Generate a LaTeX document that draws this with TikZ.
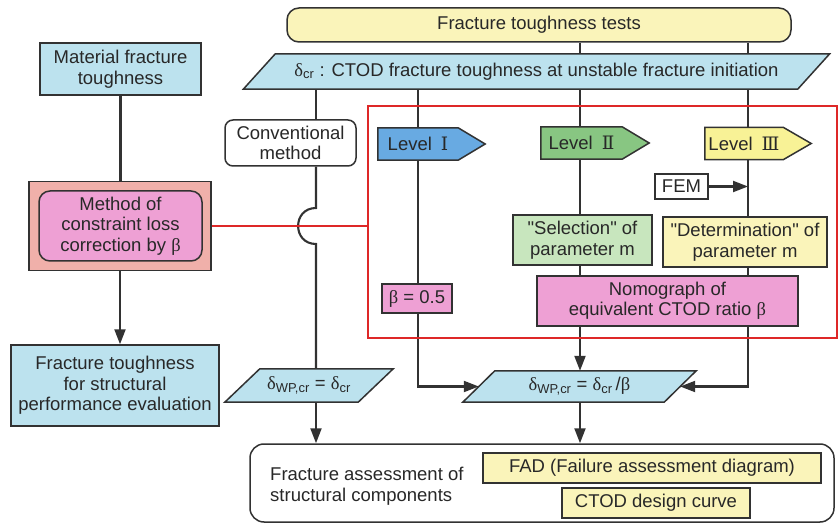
\documentclass[tikz,border=0pt]{standalone}
\usepackage{fontspec}
\setmainfont{Liberation Sans}
\newfontfamily\qfont{Liberation Sans}
\newfontfamily\grkfont{Liberation Serif}
\newfontfamily\romfont{DejaVu Serif}
\usetikzlibrary{arrows.meta,calc}
\pgfdeclarelayer{back}
\pgfdeclarelayer{bg}
\pgfdeclarelayer{shapes}
\pgfsetlayers{back,bg,shapes,main}
\definecolor{txt}{RGB}{40,40,40}
\definecolor{edge}{RGB}{50,50,50}
\definecolor{lblue}{RGB}{188,226,238}
\definecolor{lyellow}{RGB}{250,244,186}
\definecolor{bluelvl}{RGB}{104,170,226}
\definecolor{greenlvl}{RGB}{136,198,130}
\definecolor{yellowlvl}{RGB}{248,242,150}
\definecolor{lgreen}{RGB}{200,230,190}
\definecolor{magpink}{RGB}{238,160,212}
\definecolor{salmon}{RGB}{240,176,170}
\definecolor{redline}{RGB}{222,40,40}
\newcommand\dl{{\grkfont δ}}
\newcommand\bt{{\grkfont β}}
\newcommand\qq{{\qfont"}}
\newcommand\lvl[3]{\begin{pgfonlayer}{shapes}\draw[shp,fill=#3] (#1.north west) -- (#1.north east) -- ([xshift=#2pt]#1.east) -- (#1.south east) -- (#1.south west) -- cycle;\end{pgfonlayer}}
\newcommand\para[3]{\begin{pgfonlayer}{shapes}\draw[shp,fill=#3] ([xshift=-#2pt]#1.south west) -- ([xshift=-#2pt]#1.south east) -- ([xshift=#2pt]#1.north east) -- ([xshift=#2pt]#1.north west) -- cycle;\end{pgfonlayer}}
\begin{document}
\begin{tikzpicture}[x=1pt,y=-1pt,
  font=\fontsize{18.5}{20.5}\selectfont, text=txt,
  shp/.style={draw=edge,line width=1.5pt},
  box/.style={shp,inner sep=0pt,align=center},
  plain/.style={inner sep=0pt,align=center},
  conn/.style={draw=edge,line width=2.1pt},
  arr/.style={conn,-{Triangle[length=15pt,width=11pt]}}]
\begin{pgfonlayer}{back}
\fill[white] (0,0) rectangle (839,524);
\end{pgfonlayer}
\useasboundingbox (0,0) rectangle (839,524);

% top
\node[box,fill=lyellow,rounded corners=12pt,minimum width=504pt,minimum height=34pt] (tests) at (539,25) {Fracture toughness tests};
\node[plain,minimum width=554pt,minimum height=35pt] (ctod) at (536.5,71.5) {\dl\textsubscript{cr} : CTOD fracture toughness at unstable fracture initiation};
\para{ctod}{16}{lblue}

% left column
\node[box,fill=lblue,minimum width=161pt,minimum height=52pt] (matfrac) at (120.5,69) {Material fracture\\toughness};
\node[box,fill=salmon,minimum width=182pt,minimum height=89pt] (method) at (120,226) {};
\node[box,fill=magpink,rounded corners=11pt,minimum width=163pt,minimum height=70pt] (methodin) at (120.5,226) {Method of\\constraint loss\\correction by \bt};
\node[box,fill=lblue,minimum width=208pt,minimum height=81pt] (perf) at (115,385.5) {Fracture toughness\\for structural\\performance evaluation};

% conventional
\node[box,fill=white,rounded corners=8pt,minimum width=131pt,minimum height=46pt] (conv) at (290.5,143) {Conventional\\method};

% red frame
\node[draw=redline,line width=1.8pt,inner sep=0pt,minimum width=469pt,minimum height=232pt] (redbox) at (602.5,222) {};

% levels
\node[plain,minimum width=80pt,minimum height=32pt] (L1) at (418,144) {Level\hspace{9pt}{\romfont Ⅰ}};
\lvl{L1}{27}{bluelvl}
\node[plain,minimum width=81pt,minimum height=32pt] (L2) at (581.5,143) {Level\hspace{9pt}{\romfont Ⅱ}};
\lvl{L2}{27}{greenlvl}
\node[plain,minimum width=78pt,minimum height=32pt] (L3) at (744,143.5) {Level\hspace{9pt}{\romfont Ⅲ}};
\lvl{L3}{28}{yellowlvl}

\node[box,fill=white,minimum width=53pt,minimum height=25pt] (fem) at (681.5,186.5) {FEM};
\node[box,fill=lgreen,minimum width=139pt,minimum height=50pt] (sel) at (582.5,240) {\qq Selection\qq{} of\\parameter m};
\node[box,fill=lyellow,minimum width=164pt,minimum height=50pt] (det) at (745,242) {\qq Determination\qq{} of\\parameter m};
\node[box,fill=magpink,minimum width=261pt,minimum height=50pt] (nomo) at (667.5,301) {Nomograph of\\equivalent CTOD ratio \bt};
\node[box,fill=magpink,minimum width=70pt,minimum height=29pt] (b05) at (417,298.5) {\bt{} = 0.5};

% results
\node[plain,minimum width=133pt,minimum height=33pt] (wp1) at (309,385.5) {\dl\textsubscript{WP,cr} = \dl\textsubscript{cr}};
\para{wp1}{17.5}{lblue}
\node[plain,minimum width=201pt,minimum height=31pt] (wp2) at (579.5,386.5) {\dl\textsubscript{WP,cr} = \dl\textsubscript{cr}\,/\bt};
\para{wp2}{16}{lblue}

% final
\node[box,fill=white,rounded corners=14pt,minimum width=584pt,minimum height=78pt] (final) at (542,483) {};
\node[plain,align=left,anchor=west] (fa) at (270,486) {Fracture assessment of\\structural components};
\node[box,fill=lyellow,minimum width=338pt,minimum height=30pt] (fad) at (652,468) {FAD (Failure assessment diagram)};
\node[box,fill=lyellow,minimum width=188pt,minimum height=30pt] (ctodc) at (656,503) {CTOD design curve};

% connectors
\coordinate (xa) at (316,0);
\coordinate (xb) at (418,0);
\coordinate (xc) at (580,0);
\coordinate (xd) at (748,0);
\coordinate (j1) at (316,208);
\coordinate (j2) at (316,244);
\begin{pgfonlayer}{bg}
\draw[conn] (xc |- tests.south) -- (xc |- ctod.north);
\draw[conn] (xd |- tests.south) -- (xd |- ctod.north);
\draw[conn] (xa |- ctod.south) -- (xa |- conv.north);
\draw[conn] (xa |- conv.south) -- (j1) to[out=180,in=180,looseness=1.7] (j2) -- (xa |- wp1.north);
\draw[arr] (xa |- wp1.south) -- (xa |- final.north);
\draw[conn] (xb |- ctod.south) -- (xb |- b05.north);
\draw[arr] (xb |- b05.south) |- (wp2.west);
\draw[conn] (xc |- ctod.south) -- (xc |- nomo.north);
\draw[arr] (xc |- nomo.south) -- (xc |- wp2.north);
\draw[arr] (xc |- wp2.south) -- (xc |- final.north);
\draw[arr] (xd |- ctod.south) |- (wp2.east);
\draw[conn] (matfrac.south) -- (matfrac.south |- method.north);
\end{pgfonlayer}
\draw[arr] (fem.east) -- (fem.east -| xd);
\draw[arr] (method.south) -- (method.south |- perf.north);
\draw[draw=redline,line width=1.8pt] (method.east) -- (method.east -| redbox.west);
\end{tikzpicture}
\end{document}
